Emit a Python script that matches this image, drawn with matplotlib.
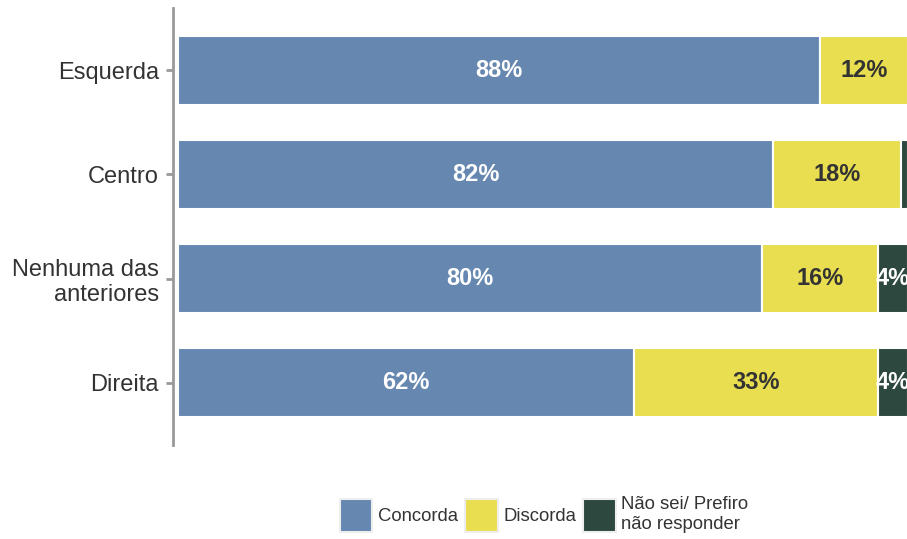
import matplotlib
matplotlib.use('Agg')
import matplotlib.pyplot as plt
import numpy as np

plt.rcParams['font.family'] = ['Liberation Sans', 'DejaVu Sans']

# data
groups = ['Esquerda', 'Centro', 'Nenhuma das\nanteriores', 'Direita']
concorda = [88.0, 81.5, 80.0, 62.5]
discorda = [12.0, 17.5, 15.9, 33.4]
nao_sei = [0.0, 1.0, 4.1, 4.1]

series = ['Concorda', 'Discorda', 'Não sei/ Prefiro\nnão responder']
colors = ['#6688b0', '#e9de50', '#2d483e']
text_colors = ['white', '#333333', 'white']

fig = plt.figure(figsize=(9.07, 5.39), dpi=100)
ax = fig.add_axes([173 / 907, 1 - 445 / 539, 734 / 907, 437 / 539])

y = np.arange(len(groups))
left = np.zeros(len(groups))
for vals, name, col, tcol in zip([concorda, discorda, nao_sei], series, colors, text_colors):
    vals = np.array(vals)
    ax.barh(y, vals, left=left, height=0.67, color=col, edgecolor='white',
            linewidth=1.5, label=name)
    for yi, l, v in zip(y, left, vals):
        if v >= 3:
            ax.text(l + v / 2, yi, f'{v:.0f}%', ha='center', va='center',
                    color=tcol, fontsize=17, fontweight='bold')
    left += vals

ax.set_xlim(-5 / 7.3, 729 / 7.3)
ax.set_ylim(3.6, -0.6)
ax.set_yticks(y)
ax.set_yticklabels(groups, fontsize=17, color='#333333')
ax.set_xticks([])
for s in ['top', 'right', 'bottom']:
    ax.spines[s].set_visible(False)
ax.spines['left'].set_color('#999999')
ax.spines['left'].set_linewidth(2)
ax.tick_params(axis='y', length=5, width=2, color='#999999', pad=5)

leg = ax.legend(loc='center', bbox_to_anchor=(0.60, 0.045), bbox_transform=fig.transFigure,
                ncol=3, frameon=False, fontsize=13.3, handlelength=1.75, handleheight=2.35,
                handletextpad=0.3, columnspacing=0.4, labelcolor='#333333')
for p in leg.get_patches():
    p.set_edgecolor('#eeeeee')

fig.savefig('out.png', dpi=100)
